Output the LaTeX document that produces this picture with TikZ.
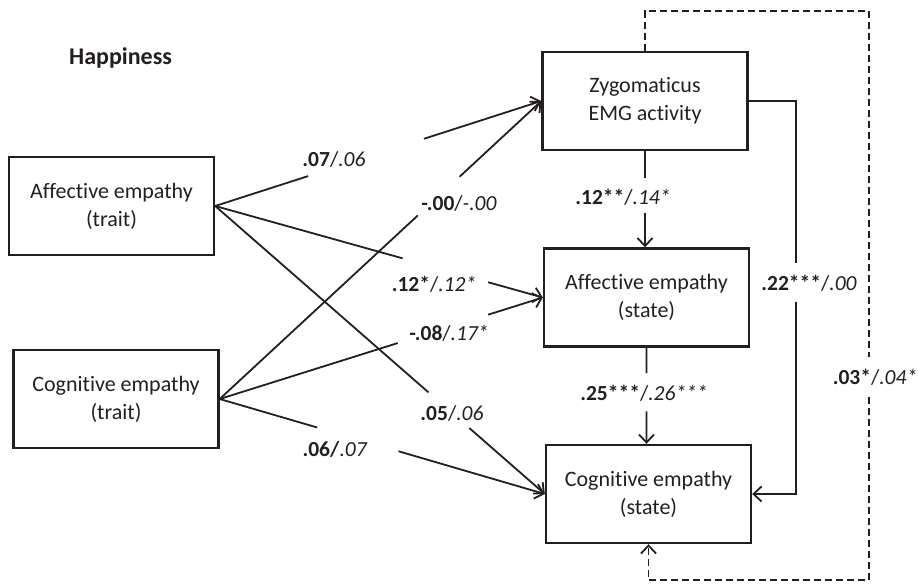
\documentclass[tikz,border=0pt]{standalone}
\usepackage{fontspec}
\setmainfont{Carlito}[Ligatures=NoCommon, RawFeature={-liga;-clig;-dlig}]
\usetikzlibrary{arrows.meta,calc}
\definecolor{ink}{RGB}{35,31,32}
\begin{document}
\begin{tikzpicture}[x=1pt,y=-1pt,
  box/.style={draw=ink, line width=2.4pt, minimum width=205pt, minimum height=98pt,
    align=center, text=ink, inner sep=0pt, font=\fontsize{22}{28}\selectfont},
  tip/.style={-{Straight Barb[length=8pt,width=15pt,line width=1.8pt]}},
  conn/.style={draw=ink, line width=1.8pt, tip},
  lab/.style={text=ink, inner sep=0pt, font=\fontsize{21.5}{26}\selectfont},
]
\useasboundingbox (0,0) rectangle (918,584);

% title
\node[lab, font=\fontsize{24}{28}\selectfont\bfseries] (title) at (120.5,58) {Happiness};

% variables
\node[box] (affT) at (111.5,206) {Affective empathy\\(trait)};
\node[box] (cogT) at (116,399)   {Cognitive empathy\\(trait)};
\node[box] (zyg)  at (645,101)   {Zygomaticus\\EMG activity};
\node[box] (affS) at (646.5,297.5) {Affective empathy\\(state)};
\node[box] (cogS) at (648.5,494) {Cognitive empathy\\(state)};

% trait -> state paths (each broken where its coefficient sits)
\draw[conn] (affT.east) -- ($(affT.east)!0.285!(zyg.west)$)
            ($(affT.east)!0.640!(zyg.west)$) -- (zyg.west);
\draw[conn] (affT.east) -- ($(affT.east)!0.572!(affS.west)$)
            ($(affT.east)!0.833!(affS.west)$) -- (affS.west);
\draw[conn] (affT.east) -- ($(affT.east)!0.647!(cogS.west)$)
            ($(affT.east)!0.771!(cogS.west)$) -- (cogS.west);
\draw[conn] (cogT.east) -- ($(cogT.east)!0.616!(zyg.west)$)
            ($(cogT.east)!0.746!(zyg.west)$) -- (zyg.west);
\draw[conn] (cogT.east) -- ($(cogT.east)!0.551!(affS.west)$)
            ($(cogT.east)!0.831!(affS.west)$) -- (affS.west);
\draw[conn] (cogT.east) -- ($(cogT.east)!0.300!(cogS.west)$)
            ($(cogT.east)!0.550!(cogS.west)$) -- (cogS.west);

% chain of state measures
\draw[conn] (zyg.south) -- ($(zyg.south)!0.276!(zyg.south |- affS.north)$)
            ($(zyg.south)!0.643!(zyg.south |- affS.north)$) -- (zyg.south |- affS.north);
\draw[conn] (affS.south) -- ($(affS.south)!0.265!(affS.south |- cogS.north)$)
            ($(affS.south)!0.663!(affS.south |- cogS.north)$) -- (affS.south |- cogS.north);

% direct path EMG -> cognitive state
\coordinate (rx) at (796,0);
\draw[draw=ink, line width=2.8pt, tip] (zyg.east) -- (zyg.east -| rx) -- (rx |- 0,263)
      (rx |- 0,302) -- (rx |- cogS.east) -- (cogS.east);

% indirect path (dashed)
\coordinate (dx) at (869,0);
\draw[draw=ink, line width=1.8pt, dash pattern=on 7pt off 4pt, tip]
      (zyg.north) -- (zyg.north |- 0,11) -- (dx |- 0,11) -- (dx |- 0,357)
      (dx |- 0,397) -- (dx |- 0,580) -- (cogS.south |- 0,580) -- (cogS.south);

% coefficients
\node[lab] (c1)  at (334,159) {\textbf{.07}/\textit{.06}};
\node[lab] (c2)  at (459,203) {\textbf{-.00}/\textit{-.00}};
\node[lab] (c3)  at (434,284) {\textbf{.12*}/\textit{.12*}};
\node[lab] (c4)  at (449,333) {\textbf{-.08}/\textit{.17*}};
\node[lab] (c5)  at (452,413) {\textbf{.05}/\textit{.06}};
\node[lab] (c6)  at (335,449) {\textbf{.06/}\textit{.07}};
\node[lab] (c7)  at (623,197) {\textbf{.12**}/\textit{.14*}};
\node[lab] (c8)  at (644,393) {\textbf{.25***}/\textit{.26***}};
\node[lab] (c9)  at (809,283) {\textbf{.22***}/\textit{.00}};
\node[lab] (c10) at (875,377) {\textbf{.03*}/\textit{.04*}};
\end{tikzpicture}
\end{document}
